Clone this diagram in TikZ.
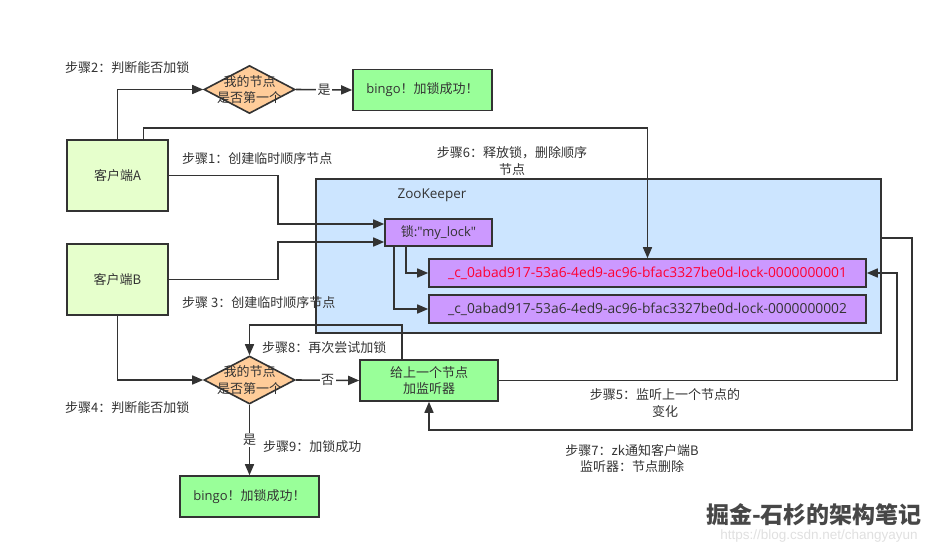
\documentclass[tikz,border=0pt]{standalone}
\usepackage{fontspec}
\setmainfont{Noto Sans CJK SC}
\newfontfamily\urlfont{Liberation Sans}
\newfontfamily\latinfont{Open Sans}
\usetikzlibrary{arrows.meta,shapes.geometric,calc}
\definecolor{ink}{HTML}{333333}
\definecolor{clientfill}{HTML}{E6FFCC}
\definecolor{okfill}{HTML}{99FF99}
\definecolor{decfill}{HTML}{FFCC99}
\definecolor{zkfill}{HTML}{CCE5FF}
\definecolor{nodefill}{HTML}{CC99FF}
\definecolor{redtext}{HTML}{FF0033}
\tikzset{
  base/.style={font=\fontsize{13}{16.5}\selectfont, text=ink},
  box/.style={base, draw=ink, line width=1.6pt, rectangle, inner sep=0pt, align=center},
  clientbox/.style={box, fill=clientfill, minimum width=101pt, minimum height=71pt},
  okbox/.style={box, fill=okfill, minimum width=139pt, minimum height=41pt},
  decbox/.style={base, draw=ink, line width=1.6pt, diamond, fill=decfill, inner sep=0pt, minimum width=91pt, minimum height=48pt},
  znode/.style={box, fill=nodefill, minimum width=437pt, minimum height=28pt, font=\latinfont\fontsize{13.8}{16.5}\selectfont},
  steplabel/.style={base, align=center, inner sep=1pt},
  arr/.style={draw=ink, line width=1.6pt, -{Triangle[length=11pt,width=9pt]}},
  conn/.style={draw=ink, line width=1.6pt},
  edgelabel/.style={base, fill=white, inner sep=1.5pt}
}
\begin{document}
\begin{tikzpicture}[x=1pt,y=-1pt]
\useasboundingbox (0,0) rectangle (943,549);
\fill[white] (0,0) rectangle (943,549);

% ZooKeeper container
\node[box, fill=zkfill, minimum width=565pt, minimum height=154pt] (zk) at (598.5,256) {};
\node[base, font=\latinfont\fontsize{13.5}{16.5}\selectfont] (zkt) at (432,195) {ZooKeeper};

% clients
\node[clientbox] (A) at (117.5,175.5) {客户端A};
\node[clientbox] (B) at (117.5,279.5) {客户端B};

% decisions
\node[decbox] (dA) at (249.5,89.5) {};
\node[base, align=center, inner sep=0pt] (dAt) at (dA.center) {我的节点\\是否第一个};
\node[decbox] (dB) at (249.5,380) {};
\node[base, align=center, inner sep=0pt] (dBt) at (dB.center) {我的节点\\是否第一个};

% result boxes
\node[okbox] (okA) at (422.5,90) {{\latinfont bingo}！加锁成功！};
\node[okbox] (okB) at (249.5,496.5) {{\latinfont bingo}！加锁成功！};
\node[okbox, minimum width=138pt] (listen) at (429,380.5) {给上一个节点\\加监听器};

% zk nodes
\node[box, fill=nodefill, minimum width=107pt, minimum height=27pt] (lock) at (438.5,232.5) {锁:{\latinfont\symbol{34}my\_lock\symbol{34}}};
\node[znode, text=redtext] (n1) at (647.5,273) {\_c\_0abad917-53a6-4ed9-ac96-bfac3327be0d-lock-0000000001};
\node[znode] (n2) at (647.5,309) {\_c\_0abad917-53a6-4ed9-ac96-bfac3327be0d-lock-0000000002};

% connectors
\draw[arr] (A.north) |- (dA.west);
\draw[arr] (dA.east) -- node[edgelabel] (yesA) {是} (okA.west);
\draw[arr] ([xshift=26]A.north) -- ++(0,-11) -| (n1.north);
\draw[arr] (A.east) -- ++(109,0) |- ([yshift=8.5]lock.west);
\draw[arr] (B.east) -- ++(109,0) |- ([yshift=-9.5]lock.west);
\draw[arr] ([xshift=-32.5]lock.south) |- (n1.west);
\draw[arr] ([xshift=-44.5]lock.south) |- (n2.west);
\draw[arr] (B.south) |- (dB.west);
\draw[arr] (dB.east) -- node[edgelabel] (noB) {否} (listen.west);
\draw[arr] (dB.south) -- node[edgelabel, pos=0.5] (yesB) {是} (okB.north);
\draw[arr] ([xshift=-27]listen.north) -- ++(0,-34) -| (dB.north);
\draw[arr] (listen.east) -| ($(n1.east)+(30,0)$) -- (n1.east);
\draw[arr] ([yshift=18]zk.east) -- ++(30,0) -- ++(0,192) -| (listen.south);

% step labels
\node[steplabel, anchor=west] (s2) at (64,68) {步骤2：判断能否加锁};
\node[steplabel, anchor=west] (s1) at (181,159) {步骤1：创建临时顺序节点};
\node[steplabel, anchor=west] (s3) at (181,303) {步骤 3：创建临时顺序节点};
\node[steplabel] (s6) at (512,161) {步骤6：释放锁，删除顺序\\节点};
\node[steplabel, anchor=west] (s8) at (261,348) {步骤8：再次尝试加锁};
\node[steplabel, anchor=west] (s4) at (64,408) {步骤4：判断能否加锁};
\node[steplabel, anchor=west] (s9) at (262,447) {步骤9：加锁成功};
\node[steplabel] (s5) at (665,403) {步骤5：监听上一个节点的\\变化};
\node[steplabel] (s7) at (632,458.5) {步骤7：zk通知客户端B\\监听器：节点删除};

% watermark
\node[base, font=\fontsize{23}{26}\selectfont\bfseries, text=ink!90] (wm) at (814,515) {掘金-石杉的架构笔记};
\node[base, font=\urlfont\fontsize{13.5}{15}\selectfont, text=black!12] (wmurl) at (819,536) {https://blog.csdn.net/changyayun};
\end{tikzpicture}
\end{document}
